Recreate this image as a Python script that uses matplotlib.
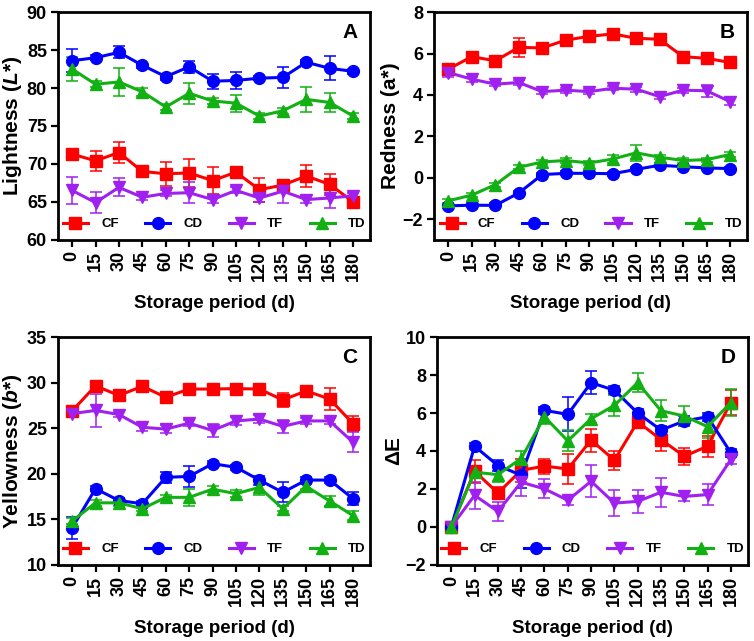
import numpy as np
from matplotlib import pyplot as plt
from matplotlib.lines import Line2D

plt.rcParams['font.family'] = ['Liberation Sans', 'DejaVu Sans']
plt.rcParams['font.weight'] = 'bold'
plt.rcParams['mathtext.fontset'] = 'custom'
plt.rcParams['mathtext.it'] = 'Liberation Sans:italic:bold'
plt.rcParams['mathtext.rm'] = 'Liberation Sans:bold'

days = [0, 15, 30, 45, 60, 75, 90, 105, 120, 135, 150, 165, 180]
groups = ['CF', 'CD', 'TF', 'TD']

# Lightness (L*)
L_CF = [71.3, 70.4, 71.5, 69.0, 68.7, 68.8, 67.8, 68.9, 66.6, 67.2, 68.4, 67.3, 65.0]
L_CF_err = [0.3, 1.3, 1.4, 0.3, 1.6, 1.9, 1.8, 0.3, 1.6, 0.4, 1.5, 1.4, 0.3]
L_CD = [83.6, 84.0, 84.7, 83.0, 81.5, 82.8, 80.9, 81.0, 81.3, 81.4, 83.4, 82.6, 82.2]
L_CD_err = [1.5, 0.3, 0.8, 0.3, 0.4, 0.8, 1.0, 1.1, 0.3, 1.4, 0.3, 1.6, 0.3]
L_TF = [66.5, 64.9, 66.9, 65.6, 66.1, 66.2, 65.3, 66.5, 65.5, 66.4, 65.3, 65.5, 65.8]
L_TF_err = [1.8, 1.4, 1.2, 0.4, 0.4, 1.4, 0.4, 0.4, 0.5, 1.5, 0.4, 1.3, 0.4]
L_TD = [82.5, 80.5, 80.8, 79.5, 77.5, 79.3, 78.3, 78.0, 76.3, 77.0, 78.5, 78.1, 76.3]
L_TD_err = [1.6, 0.4, 1.8, 0.5, 0.4, 1.4, 0.4, 1.1, 0.4, 0.4, 1.6, 1.2, 0.4]

# Redness (a*)
a_CF = [5.25, 5.85, 5.65, 6.3, 6.27, 6.65, 6.83, 6.95, 6.74, 6.69, 5.85, 5.77, 5.57]
a_CF_err = [0.15, 0.1, 0.1, 0.45, 0.1, 0.1, 0.1, 0.1, 0.1, 0.1, 0.1, 0.1, 0.15]
a_CD = [-1.36, -1.33, -1.34, -0.74, 0.15, 0.21, 0.21, 0.19, 0.4, 0.6, 0.53, 0.47, 0.44]
a_CD_err = [0.1, 0.1, 0.1, 0.1, 0.1, 0.1, 0.1, 0.1, 0.1, 0.1, 0.1, 0.1, 0.1]
a_TF = [5.08, 4.76, 4.52, 4.6, 4.16, 4.23, 4.16, 4.32, 4.28, 3.92, 4.23, 4.2, 3.68]
a_TF_err = [0.2, 0.12, 0.1, 0.12, 0.1, 0.12, 0.12, 0.1, 0.12, 0.1, 0.12, 0.3, 0.15]
a_TD = [-1.12, -0.84, -0.34, 0.5, 0.76, 0.83, 0.71, 0.9, 1.2, 0.99, 0.83, 0.87, 1.12]
a_TD_err = [0.1, 0.1, 0.1, 0.1, 0.1, 0.1, 0.1, 0.2, 0.38, 0.1, 0.1, 0.1, 0.1]

# Yellowness (b*)
b_CF = [26.9, 29.65, 28.6, 29.6, 28.4, 29.3, 29.3, 29.35, 29.3, 28.1, 29.1, 28.2, 25.5]
b_CF_err = [0.3, 0.3, 0.3, 0.3, 0.3, 0.3, 0.3, 0.3, 0.3, 0.8, 0.3, 1.2, 0.8]
b_CD = [14.05, 18.35, 17.05, 16.7, 19.6, 19.7, 21.1, 20.7, 19.3, 17.95, 19.3, 19.3, 17.25]
b_CD_err = [1.2, 0.3, 0.3, 0.3, 0.6, 1.2, 0.3, 0.3, 0.5, 1.1, 0.3, 0.3, 0.7]
b_TF = [26.6, 26.95, 26.5, 25.1, 24.9, 25.55, 24.75, 25.8, 26.0, 25.2, 25.8, 25.8, 23.45]
b_TF_err = [0.3, 1.8, 0.3, 0.4, 0.4, 0.3, 0.75, 0.4, 0.4, 0.7, 0.3, 0.3, 1.1]
b_TD = [14.8, 16.8, 16.8, 16.15, 17.4, 17.4, 18.3, 17.8, 18.5, 16.15, 18.6, 17.0, 15.4]
b_TD_err = [0.3, 0.3, 0.3, 0.3, 0.3, 0.9, 0.3, 0.4, 0.8, 0.3, 0.3, 0.5, 0.5]

# Total colour difference (dE)
E_CF = [0.0, 2.93, 1.78, 2.98, 3.2, 3.05, 4.57, 3.51, 5.54, 4.6, 3.72, 4.25, 6.55]
E_CF_err = [0.15, 0.6, 0.3, 0.6, 0.4, 0.8, 0.6, 0.5, 0.3, 0.6, 0.45, 0.55, 0.65]
E_CD = [0.0, 4.25, 3.23, 2.72, 6.14, 5.93, 7.6, 7.2, 6.0, 5.1, 5.58, 5.8, 3.9]
E_CD_err = [0.1, 0.15, 0.3, 0.7, 0.2, 0.9, 0.62, 0.2, 0.2, 0.2, 0.25, 0.2, 0.2]
E_TF = [0.0, 1.66, 0.81, 2.35, 2.0, 1.4, 2.4, 1.25, 1.34, 1.82, 1.6, 1.7, 3.55]
E_TF_err = [0.1, 0.7, 0.5, 0.7, 0.5, 0.25, 0.85, 0.7, 0.6, 0.75, 0.25, 0.55, 0.25]
E_TD = [0.0, 2.88, 2.75, 3.6, 5.8, 4.53, 5.7, 6.4, 7.6, 6.12, 5.84, 5.28, 6.55]
E_TD_err = [0.1, 0.2, 0.4, 0.4, 0.4, 0.55, 0.25, 0.55, 0.5, 0.55, 0.55, 0.6, 0.7]

colors = ['#FF0000', '#0000FF', '#A020F0', '#12B012']
markers = ['s', 'o', 'v', '^']


def drawPanel(ax, series, errs, ylabel, ylim, yticks, letter):
    handles = []
    for i in range(4):
        ax.errorbar(days, series[i], yerr=errs[i], color=colors[i], marker=markers[i],
                    markersize=8.5, linewidth=2.2, elinewidth=1.1, capsize=4, capthick=1.1,
                    ecolor=colors[i])
        handles.append(Line2D([], [], color=colors[i], marker=markers[i],
                              markersize=8.5, linewidth=2.2, label=groups[i]))
    ax.set_xlim(-9, 191)
    ax.set_xticks(days)
    ax.set_xticklabels([str(d) for d in days], rotation=90, fontsize=13, fontweight='bold')
    ax.set_ylim(ylim)
    ax.set_yticks(yticks)
    ax.set_yticklabels([str(t).replace('-', '\u2212') for t in yticks], fontsize=13, fontweight='bold')
    ax.set_xlabel('Storage period (d)', fontsize=13.5, fontweight='bold', labelpad=10)
    ax.set_ylabel(ylabel, fontsize=15, fontweight='bold', labelpad=2)
    for sp in ax.spines.values():
        sp.set_linewidth(2)
    ax.tick_params(width=1.6, length=5, direction='out', pad=3)
    ax.text(0.96, 0.91, letter, transform=ax.transAxes, ha='right', va='center',
            fontsize=15, fontweight='bold')
    ax.legend(handles=handles, loc='lower center', ncol=4, frameon=False, fontsize=9.5,
              handlelength=1.9, handletextpad=1.0, columnspacing=2.0,
              borderaxespad=0.3, bbox_to_anchor=(0.5, 0.0))


fig = plt.figure(figsize=(7.54, 6.41), dpi=100)
axA = fig.add_axes([0.077, 0.626, 0.414, 0.355])
axB = fig.add_axes([0.576, 0.626, 0.415, 0.355])
axC = fig.add_axes([0.077, 0.119, 0.414, 0.355])
axD = fig.add_axes([0.580, 0.119, 0.412, 0.355])

drawPanel(axA, [L_CF, L_CD, L_TF, L_TD], [L_CF_err, L_CD_err, L_TF_err, L_TD_err],
          'Lightness ($\\mathit{L}$*)', (60, 90), [60, 65, 70, 75, 80, 85, 90], 'A')
drawPanel(axB, [a_CF, a_CD, a_TF, a_TD], [a_CF_err, a_CD_err, a_TF_err, a_TD_err],
          'Redness (a*)', (-3, 8), [-2, 0, 2, 4, 6, 8], 'B')
drawPanel(axC, [b_CF, b_CD, b_TF, b_TD], [b_CF_err, b_CD_err, b_TF_err, b_TD_err],
          'Yellowness ($\\mathit{b}$*)', (10, 35), [10, 15, 20, 25, 30, 35], 'C')
drawPanel(axD, [E_CF, E_CD, E_TF, E_TD], [E_CF_err, E_CD_err, E_TF_err, E_TD_err],
          '\u0394E', (-2, 10), [-2, 0, 2, 4, 6, 8, 10], 'D')

fig.savefig('out.png', dpi=100)
